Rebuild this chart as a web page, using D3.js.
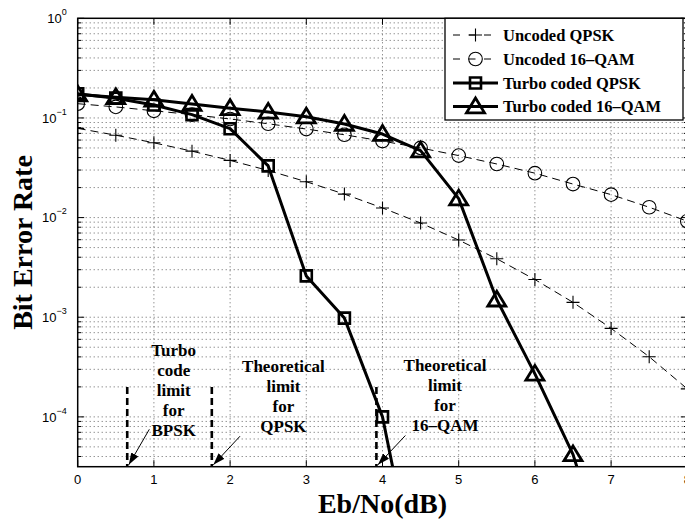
<!DOCTYPE html>
<html><head><meta charset="utf-8">
<script src="https://cdn.jsdelivr.net/npm/d3@7"></script>
<style>body{margin:0;background:#fff} svg{display:block}</style>
</head><body>
<svg id="chart" width="685" height="520"></svg>
<script>
// Eb/No grid (dB) for the uncoded reference curves
const ebnoUncoded = [0,0.5,1,1.5,2,2.5,3,3.5,4,4.5,5,5.5,6,6.5,7,7.5,8];
const berUncodedQPSK = [0.0786,0.0671,0.0563,0.0464,0.0375,0.0297,0.0229,0.0172,0.0125,0.00882,0.00595,0.00386,0.00239,0.00141,0.000773,0.000401,0.000191];
const berUncoded16QAM = [0.139,0.129,0.118,0.108,0.0976,0.0874,0.0774,0.0678,0.0586,0.0500,0.0419,0.0345,0.0279,0.0217,0.0170,0.0127,0.0092];

// Turbo coded curves
const ebnoTurboQPSK = [0,0.5,1,1.5,2,2.5,3,3.5,4,4.5];
const berTurboQPSK = [0.175,0.158,0.135,0.108,0.078,0.033,0.0026,0.00098,0.0001,0.0000013];
const ebnoTurbo16QAM = [0,0.5,1,1.5,2,2.5,3,3.5,4,4.5,5,5.5,6,6.5,7];
const berTurbo16QAM = [0.172,0.161,0.152,0.138,0.125,0.115,0.103,0.087,0.069,0.047,0.0155,0.0015,0.00027,0.000042,0.0000025];

const xTickValues = [0,1,2,3,4,5,6,7,8];
const yTickValues = [1,1e-1,1e-2,1e-3,1e-4];
const yTickExponents = ["0","\u22121","\u22122","\u22123","\u22124"];

const seriesNames = ["Uncoded QPSK","Uncoded 16\u2013QAM","Turbo coded QPSK","Turbo coded 16\u2013QAM"];

// capacity / code limits (dB) marked with dashed verticals
const limitValues = [0.65, 1.76, 3.92];
const limitTop = 2e-4;
const limitNotes = [
  {lines:["Turbo","code","limit","for","BPSK"], x:1.26, y:4.1e-4, tail:[0.94,7.5e-5], tip:[0.67,3.3e-5]},
  {lines:["Theoretical","limit","for","QPSK"], x:2.70, y:2.85e-4, tail:[2.13,6.4e-5], tip:[1.78,3.3e-5]},
  {lines:["Theoretical","limit","for","16\u2013QAM"], x:4.82, y:2.9e-4, tail:[4.30,6.5e-5], tip:[3.94,3.3e-5]}
];

const svg = d3.select("#chart");
const L = 77.7, R = 687.3, T = 18.3, B = 466.7;
const x = d3.scaleLinear().domain([0,8]).range([L,R]);
const y = d3.scaleLog().domain([Math.pow(10,-4.5),1]).range([B,T]);

svg.append("rect").attr("width",685).attr("height",520).attr("fill","#fff");

const defs = svg.append("defs");
defs.append("clipPath").attr("id","plotclip")
  .append("rect").attr("x",L).attr("y",T).attr("width",R-L).attr("height",B-T);
defs.append("marker").attr("id","arrowhead")
  .attr("viewBox","0 0 12 8").attr("refX",12).attr("refY",4)
  .attr("markerWidth",12).attr("markerHeight",8).attr("markerUnits","userSpaceOnUse")
  .attr("orient","auto")
  .append("path").attr("d","M0,0L12,4L0,8Z").attr("fill","#000");

// grid
const grid = svg.append("g").attr("stroke","#555").attr("stroke-width",0.9).attr("stroke-dasharray","1,3");
const minorVals = [];
for (let e=-5;e<=0;e++) for (let k=1;k<=9;k++){const v=k*Math.pow(10,e); if(v>=Math.pow(10,-4.5)&&v<1) minorVals.push(v);}
grid.selectAll("line.h").data(minorVals).join("line").attr("class","h")
  .attr("x1",L).attr("x2",R).attr("y1",d=>y(d)).attr("y2",d=>y(d));
grid.selectAll("line.v").data(xTickValues.slice(1,-1)).join("line").attr("class","v")
  .attr("y1",T).attr("y2",B).attr("x1",d=>x(d)).attr("x2",d=>x(d));

const plot = svg.append("g").attr("clip-path","url(#plotclip)");
const line = d3.line().x(d=>x(d[0])).y(d=>y(d[1]));
const zip = (a,b)=>a.map((v,i)=>[v,b[i]]);

const series = [
  {pts:zip(ebnoUncoded,berUncodedQPSK), w:1, dash:"8,5", marker:"plus"},
  {pts:zip(ebnoUncoded,berUncoded16QAM), w:1, dash:"8,5", marker:"circle"},
  {pts:zip(ebnoTurboQPSK,berTurboQPSK), w:3, dash:null, marker:"square"},
  {pts:zip(ebnoTurbo16QAM,berTurbo16QAM), w:3, dash:null, marker:"triangle"}
];

const markerPath = {
  plus: "M-6.5,0H6.5M0,-6.5V6.5",
  circle: d3.arc()({innerRadius:0,outerRadius:6.8,startAngle:0,endAngle:2*Math.PI}),
  square: "M-5.5,-5.5H5.5V5.5H-5.5Z",
  triangle: "M0,-8.5L9,6.3L-9,6.3Z"
};
const markerWidth = {plus:1.1, circle:1.1, square:2.6, triangle:2.8};

series.forEach(s=>{
  plot.append("path").attr("d",line(s.pts)).attr("fill","none").attr("stroke","#000")
    .attr("stroke-width",s.w).attr("stroke-dasharray",s.dash).attr("stroke-linejoin","round");
});
series.forEach(s=>{
  plot.selectAll(null).data(s.pts).join("path")
    .attr("transform",d=>`translate(${x(d[0])},${y(d[1])})`)
    .attr("d",markerPath[s.marker]).attr("fill","none").attr("stroke","#000")
    .attr("stroke-width",markerWidth[s.marker]);
});

// limit markers and their notes
const ann = svg.append("g");
ann.selectAll("line.lim").data(limitValues).join("line").attr("class","lim")
  .attr("x1",d=>x(d)).attr("x2",d=>x(d)).attr("y1",y(limitTop)).attr("y2",B)
  .attr("stroke","#000").attr("stroke-width",2.6).attr("stroke-dasharray","7,4");
limitNotes.forEach(n=>{
  const t = ann.append("text").attr("font-family","'Liberation Serif','Times New Roman',serif")
    .attr("font-weight","bold").attr("font-size",17).attr("text-anchor","middle");
  n.lines.forEach((s,i)=>t.append("tspan").attr("x",x(n.x)).attr("y",y(n.y)+i*20).text(s));
  ann.append("line").attr("x1",x(n.tail[0])).attr("y1",y(n.tail[1]))
    .attr("x2",x(n.tip[0])).attr("y2",y(n.tip[1]))
    .attr("stroke","#000").attr("stroke-width",1).attr("marker-end","url(#arrowhead)");
});

// axes box and ticks
const ax = svg.append("g").attr("stroke","#000");
ax.append("rect").attr("x",L).attr("y",T).attr("width",R-L).attr("height",B-T)
  .attr("fill","none").attr("stroke-width",1.5);
xTickValues.forEach(v=>{
  ax.append("line").attr("x1",x(v)).attr("x2",x(v)).attr("y1",B).attr("y2",B-6.5).attr("stroke-width",1);
  ax.append("line").attr("x1",x(v)).attr("x2",x(v)).attr("y1",T).attr("y2",T+6.5).attr("stroke-width",1);
});
yTickValues.forEach(v=>{
  ax.append("line").attr("x1",L).attr("x2",L+6.5).attr("y1",y(v)).attr("y2",y(v)).attr("stroke-width",1);
  ax.append("line").attr("x1",R).attr("x2",R-6.5).attr("y1",y(v)).attr("y2",y(v)).attr("stroke-width",1);
});
minorVals.filter(v=>!yTickValues.includes(v)).forEach(v=>{
  ax.append("line").attr("x1",L).attr("x2",L+3.5).attr("y1",y(v)).attr("y2",y(v)).attr("stroke-width",1);
  ax.append("line").attr("x1",R).attr("x2",R-3.5).attr("y1",y(v)).attr("y2",y(v)).attr("stroke-width",1);
});

const tickFont = "'Liberation Sans',Arial,Helvetica,sans-serif";
svg.append("g").selectAll("text").data(xTickValues).join("text")
  .attr("x",d=>x(d)).attr("y",B+17).attr("text-anchor","middle")
  .attr("font-family",tickFont).attr("font-size",13).text(d=>d);
yTickValues.forEach((v,i)=>{
  const t = svg.append("text").attr("x",L-11).attr("y",y(v)+4.7).attr("text-anchor","end")
    .attr("font-family",tickFont).attr("font-size",13);
  t.append("tspan").text("10");
  t.append("tspan").attr("dy",-8).attr("font-size",9).text(yTickExponents[i]);
});

const labelFont = "'Liberation Serif','Times New Roman',serif";
svg.append("text").attr("x",(L+R)/2).attr("y",513).attr("text-anchor","middle")
  .attr("font-family",labelFont).attr("font-weight","bold").attr("font-size",28).text("Eb/No(dB)");
svg.append("text").attr("transform",`translate(32,${(T+B)/2}) rotate(-90)`).attr("text-anchor","middle")
  .attr("font-family",labelFont).attr("font-weight","bold").attr("font-size",28).text("Bit Error Rate");

// legend
const lg = svg.append("g");
const lgX0 = 445, lgX1 = 683, lgY0 = T, lgY1 = 120;
lg.append("rect").attr("x",lgX0).attr("y",lgY0).attr("width",lgX1-lgX0).attr("height",lgY1-lgY0)
  .attr("fill","#fff").attr("stroke","#000").attr("stroke-width",1.3);
const rowY = [35,59,83,106.5];
series.forEach((s,i)=>{
  const g = lg.append("g");
  g.append("line").attr("x1",453).attr("x2",498).attr("y1",rowY[i]).attr("y2",rowY[i])
    .attr("stroke","#000").attr("stroke-width",s.w).attr("stroke-dasharray",s.dash?"7,8.5":null);
  g.append("path").attr("transform",`translate(475.5,${rowY[i]})`).attr("d",markerPath[s.marker])
    .attr("fill","none").attr("stroke","#000").attr("stroke-width",markerWidth[s.marker]);
  g.append("text").attr("x",503).attr("y",rowY[i]+5.8).attr("font-family",labelFont)
    .attr("font-weight","bold").attr("font-size",16.5).text(seriesNames[i]);
});
</script>
</body></html>
